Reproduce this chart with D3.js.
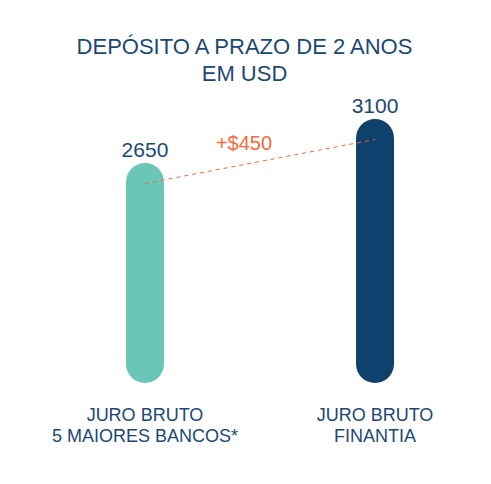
<!DOCTYPE html>
<html>
  <head>
    <meta charset="utf-8">
    <title>Depósito a prazo de 2 anos em USD</title>
    <script src="https://d3js.org/d3.v7.min.js"></script>
    <style>
      body { margin: 0; background: #fff; }
      text { font-family: "Liberation Sans", Arial, Helvetica, sans-serif; }
    </style>
  </head>
  <body>
    <script>
      var width = 491;
      var height = 484;

      // data
      var categories = ["JURO BRUTO|5 MAIORES BANCOS*", "JURO BRUTO|FINANTIA"];
      var values = [2650, 3100];
      var titleLines = ["DEPÓSITO A PRAZO DE 2 ANOS", "EM USD"];
      var diffLabel = "+$450";

      var colors = ["#6ac6b7", "#0e416b"];
      var textColor = "#1b4873";
      var orange = "#f26b3a";

      var svg = d3.select("body")
        .append("svg")
        .attr("width", width)
        .attr("height", height);

      var xScale = d3.scaleBand()
        .domain(categories)
        .range([126, 394])
        .paddingInner(0.835)
        .paddingOuter(0);

      // axis starts at 400, bars run down to the base of the plot
      var yScale = d3.scaleLinear()
        .domain([400, 3100])
        .range([383, 119]);

      var bw = xScale.bandwidth();

      svg.append("g")
        .selectAll("text")
        .data(titleLines)
        .enter()
        .append("text")
          .attr("x", width / 2 - 1)
          .attr("y", function(d, i) { return 53.5 + i * 27; })
          .attr("text-anchor", "middle")
          .attr("fill", textColor)
          .style("font-size", "22px")
          .text(function(d) { return d; });

      svg.selectAll("rect.bar")
        .data(values)
        .enter()
        .append("rect")
          .attr("class", "bar")
          .attr("x", function(d, i) { return xScale(categories[i]); })
          .attr("y", function(d) { return yScale(d); })
          .attr("width", bw)
          .attr("height", function(d) { return yScale.range()[0] - yScale(d); })
          .attr("rx", bw / 2)
          .attr("ry", bw / 2)
          .attr("fill", function(d, i) { return colors[i]; });

      svg.selectAll("text.value")
        .data(values)
        .enter()
        .append("text")
          .attr("class", "value")
          .attr("x", function(d, i) { return xScale(categories[i]) + bw / 2; })
          .attr("y", function(d) { return yScale(d) - 6.5; })
          .attr("text-anchor", "middle")
          .attr("fill", textColor)
          .style("font-size", "21px")
          .text(function(d) { return d; });

      // dashed line between the two bar caps
      var off = 20.5;
      svg.append("line")
        .attr("x1", xScale(categories[0]) + bw / 2)
        .attr("y1", yScale(values[0]) + off)
        .attr("x2", xScale(categories[1]) + bw / 2)
        .attr("y2", yScale(values[1]) + off)
        .attr("stroke", orange)
        .attr("stroke-width", 1)
        .attr("stroke-dasharray", "4,4");

      svg.append("text")
        .attr("x", 244)
        .attr("y", 150)
        .attr("text-anchor", "middle")
        .attr("fill", orange)
        .style("font-size", "20px")
        .text(diffLabel);

      svg.selectAll("g.label")
        .data(categories)
        .enter()
        .append("g")
          .attr("class", "label")
          .each(function(c) {
            var g = d3.select(this);
            c.split("|").forEach(function(line, j) {
              g.append("text")
                .attr("x", xScale(c) + bw / 2)
                .attr("y", 421 + j * 21)
                .attr("text-anchor", "middle")
                .attr("fill", textColor)
                .style("font-size", "18px")
                .text(line);
            });
          });
    </script>
  </body>
</html>
